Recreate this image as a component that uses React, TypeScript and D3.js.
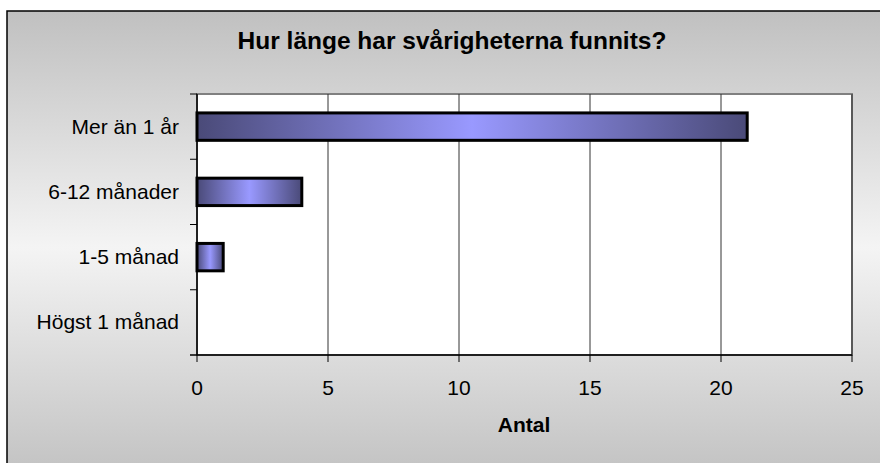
import React from "react";
import * as d3 from "d3";

const categories = ["Mer än 1 år", "6-12 månader", "1-5 månad", "Högst 1 månad"];
const values = [21, 4, 1, 0];
const xTicks = [0, 5, 10, 15, 20, 25];
const title = "Hur länge har svårigheterna funnits?";
const xTitle = "Antal";

export default function App() {
  const W = 880, H = 463;
  const left = 197, right = 852, top = 94, bottom = 355;
  const x = d3.scaleLinear().domain([0, 25]).range([left, right]);
  const y = d3.scaleBand().domain(categories).range([top, bottom]).paddingInner(0.58).paddingOuter(0.29);
  const yb = d3.scaleBand().domain(categories).range([top, bottom]);
  const font = "Arial, 'Liberation Sans', sans-serif";
  return (
    <svg width={W} height={H} style={{ position: "absolute", left: 0, top: 0 }}>
      <defs>
        <linearGradient id="bg" x1="0" y1="0" x2="0" y2="1">
          <stop offset="0" stopColor="#c0c0c0" />
          <stop offset="0.5" stopColor="#f4f4f4" />
          <stop offset="1" stopColor="#c0c0c0" />
        </linearGradient>
        <linearGradient id="bar" x1="0" y1="0" x2="1" y2="0">
          <stop offset="0" stopColor="#4a4a78" />
          <stop offset="0.5" stopColor="#9999ff" />
          <stop offset="1" stopColor="#4a4a78" />
        </linearGradient>
      </defs>
      <rect x={0} y={0} width={W} height={H} fill="#fff" />
      <rect x={7} y={11} width={W + 10} height={H + 10} fill="url(#bg)" stroke="#000" strokeWidth={1.5} />
      <text x={452} y={49} textAnchor="middle" fontFamily={font} fontWeight="bold" fontSize={24.5}>{title}</text>
      <rect x={left} y={top} width={right - left} height={bottom - top} fill="#fff" stroke="#808080" strokeWidth={2} />
      {xTicks.slice(1).map(t => (
        <line key={"g" + t} x1={x(t)} x2={x(t)} y1={top} y2={bottom} stroke="#333" strokeWidth={1} />
      ))}
      {categories.map((c, i) => (
        <rect key={c} x={x(0)} y={y(c)} width={x(values[i]) - x(0)} height={y.bandwidth()}
          fill="url(#bar)" stroke="#000" strokeWidth={3} display={values[i] > 0 ? undefined : "none"} />
      ))}
      <line x1={left} x2={left} y1={top} y2={bottom} stroke="#000" strokeWidth={1.5} />
      <line x1={left - 7} x2={right} y1={bottom} y2={bottom} stroke="#000" strokeWidth={1.5} />
      {categories.map(c => (
        <line key={"yt" + c} x1={left - 7} x2={left} y1={yb(c)!} y2={yb(c)!} stroke="#000" strokeWidth={1} />
      ))}
      {categories.map(c => (
        <text key={"yl" + c} x={179} y={yb(c)! + yb.bandwidth() / 2 + 7} textAnchor="end" fontFamily={font} fontSize={21}>{c}</text>
      ))}
      {xTicks.map(t => (
        <g key={"xt" + t}>
          <line x1={x(t)} x2={x(t)} y1={bottom} y2={bottom + 7} stroke="#000" strokeWidth={1} />
          <text x={x(t)} y={395} textAnchor="middle" fontFamily={font} fontSize={21}>{t}</text>
        </g>
      ))}
      <text x={524} y={432} textAnchor="middle" fontFamily={font} fontWeight="bold" fontSize={21}>{xTitle}</text>
    </svg>
  );
}
